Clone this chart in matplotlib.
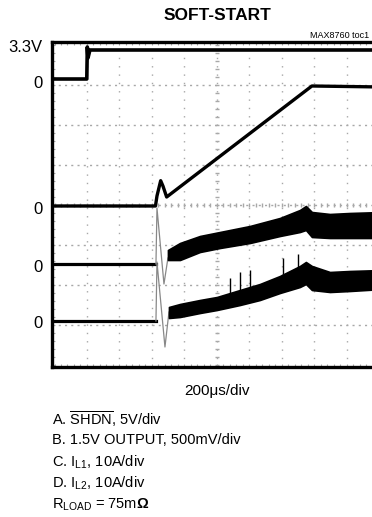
import numpy as np
import matplotlib
matplotlib.use("Agg")
import matplotlib.pyplot as plt

FONT = ["Liberation Sans", "DejaVu Sans"]
plt.rcParams["font.family"] = FONT
plt.rcParams["mathtext.fontset"] = "custom"
plt.rcParams["mathtext.rm"] = "Liberation Sans"
plt.rcParams["mathtext.bf"] = "Liberation Sans:bold"

# traces in scope divisions (x: 0..10 div, y: -4..4 div, centre = 0)
A_X = [0, 0.994, 1.01, 1.03, 1.09, 10.1]
A_Y = [3.15, 3.15, 3.95, 3.675, 3.875, 3.875]

B_X = [0, 3.108, 3.154, 3.268, 3.338, 3.452, 7.923, 10.1]
B_Y = [-0.025, -0.025, 0.225, 0.608, 0.475, 0.2, 2.975, 2.95]

C_PRE_X = [0, 3.123]
C_PRE_Y = [-1.475, -1.475]
C_EDGE_X = [3.123, 3.154, 3.369, 3.492]
C_EDGE_Y = [-1.475, -0.075, -1.975, -1.325]
C_BAND_X = [3.492, 3.862, 4.477, 5.092, 6.015, 6.938, 7.554, 7.738, 7.923,
            8.477, 9.092, 10.1]
C_TOP = [-1.125, -0.95, -0.775, -0.675, -0.525, -0.325, -0.125, -0.025,
         -0.175, -0.225, -0.2, -0.175]
C_BOT = [-1.375, -1.375, -1.175, -1.075, -0.95, -0.775, -0.675, -0.625,
         -0.8, -0.825, -0.825, -0.825]

D_PRE_X = [0, 3.123]
D_PRE_Y = [-2.9, -2.9]
D_EDGE_X = [3.123, 3.154, 3.4, 3.523]
D_EDGE_Y = [-2.9, -1.425, -3.55, -2.675]
D_BAND_X = [3.523, 3.862, 4.477, 5.0, 5.708, 6.323, 6.938, 7.554, 7.738,
            7.923, 8.477, 9.092, 10.1]
D_TOP = [-2.55, -2.475, -2.375, -2.3, -2.125, -1.975, -1.775, -1.525,
         -1.425, -1.525, -1.675, -1.65, -1.625]
D_BOT = [-2.825, -2.8, -2.7, -2.625, -2.5, -2.375, -2.2, -2.05, -1.975,
         -2.125, -2.175, -2.15, -2.1]
D_SPIKE_X = [5.4, 5.708, 6.015, 7.031, 7.492]
D_SPIKE_Y = [-1.825, -1.675, -1.625, -1.325, -1.225]

LEVEL_LABELS = ["3.3V", "0", "0", "0", "0"]
LEVEL_Y = [3.925, 3.05, -0.1, -1.575, -2.95]

LEGEND = [r"A. $\overline{\mathrm{SHDN}}$, 5V/div",
          "B. 1.5V OUTPUT, 500mV/div",
          r"C. I$_{\mathrm{L1}}$, 10A/div",
          r"D. I$_{\mathrm{L2}}$, 10A/div",
          r"R$_{\mathrm{LOAD}}$ = 75m$\mathbf{\Omega}$"]

W, H = 372, 517
fig = plt.figure(figsize=(W / 100, H / 100), dpi=100)
ax = fig.add_axes([52 / W, 150 / H, 329 / W, 325 / H])
ax.set_xlim(-0.077, 10.05)
ax.set_ylim(-4.05, 4.075)

# graticule
gcol = "#a8a8a8"
for gx in range(1, 10):
    ax.axvline(gx, color=gcol, lw=1.0, ls=(0, (1, 5)), zorder=1)
for gy in range(-3, 4):
    ax.axhline(gy, color=gcol, lw=1.0, ls=(0, (1.5, 3)), zorder=1)
tx = np.arange(0, 10.01, 0.2)
ty = np.arange(-4, 4.01, 0.2)
ax.vlines(tx, -0.06, 0.06, color=gcol, lw=1.0, zorder=1)
ax.hlines(ty, 4.93, 5.07, color=gcol, lw=1.0, zorder=1)

# traces
ax.plot(A_X, A_Y, color="black", lw=2.6, zorder=3)
ax.plot(B_X, B_Y, color="black", lw=2.4, zorder=3)
ax.plot(C_PRE_X, C_PRE_Y, color="black", lw=2.3, zorder=3)
ax.plot(D_PRE_X, D_PRE_Y, color="black", lw=2.3, zorder=3)
ax.plot(C_EDGE_X, C_EDGE_Y, color="#888888", lw=0.9, zorder=3)
ax.plot(D_EDGE_X, D_EDGE_Y, color="#888888", lw=0.9, zorder=3)
ax.fill_between(C_BAND_X, C_BOT, C_TOP, color="black", lw=1.2,
                edgecolor="black", zorder=3)
ax.fill_between(D_BAND_X, D_BOT, D_TOP, color="black", lw=1.2,
                edgecolor="black", zorder=3)
top_at = np.interp(D_SPIKE_X, D_BAND_X, D_TOP)
ax.vlines(D_SPIKE_X, top_at, D_SPIKE_Y, color="black", lw=1.0, zorder=3)

# frame
for side in ["left", "top", "bottom"]:
    ax.spines[side].set_linewidth(2.4)
ax.spines["right"].set_visible(False)
ax.set_xticks(tx)
ax.set_yticks(ty)
ax.tick_params(direction="in", length=2.5, width=0.8, color=gcol,
               labelbottom=False, labelleft=False, top=True, right=False)

for lab, yv in zip(LEVEL_LABELS, LEVEL_Y):
    ax.text(-0.37, yv, lab, ha="right", va="center", fontsize=12,
            transform=ax.transData, clip_on=False)

fig.text(217 / W, 1 - 15 / H, "SOFT-START", ha="center", va="center",
         fontsize=12.5, fontweight="bold")
fig.text(310 / W, 1 - 35 / H, "MAX8760 toc1", ha="left", va="center",
         fontsize=6.5)
fig.text(217 / W, 1 - 391 / H, "200\u03bcs/div", ha="center", va="center",
         fontsize=11)
for i, line in enumerate(LEGEND):
    fig.text(52 / W, 1 - (419 + 21.5 * i) / H, line, ha="left", va="center",
             fontsize=10.5)

fig.savefig("out.png", dpi=100)
